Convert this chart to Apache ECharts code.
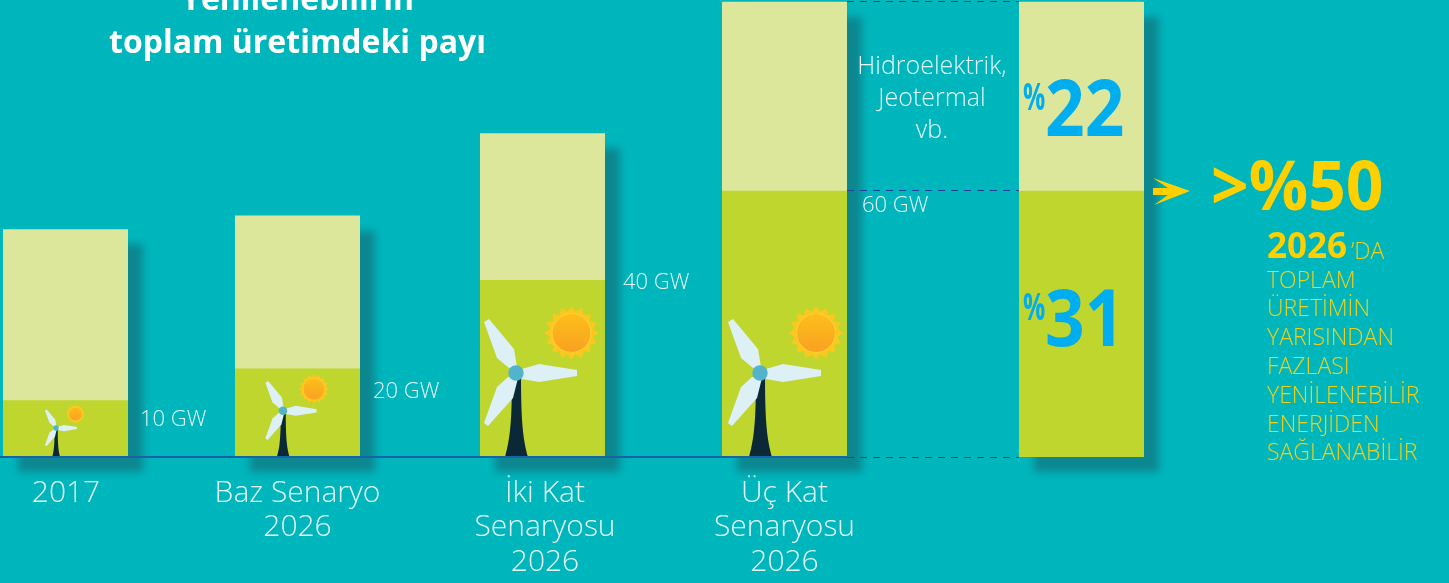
<!DOCTYPE html>
<html>
<head>
<meta charset="utf-8">
<style>
  html, body { margin: 0; padding: 0; background: #00b6bd; }
  #main { width: 1449px; height: 583px; }
</style>
<script src="https://cdn.jsdelivr.net/npm/echarts@6/dist/echarts.min.js"></script>
</head>
<body>
<div id="main"></div>
<script>
// share of total generation, %
const categories = ['2017', 'Baz Senaryo\n2026', 'İki Kat\nSenaryosu\n2026', 'Üç Kat\nSenaryosu\n2026'];
const windSolarShare = [6.6, 10.3, 20.6, 31, 31];
const hydroOtherShare = [19.9, 17.8, 17.1, 22, 22];
const capacityLabels = ['10 GW', '20 GW', '40 GW', '60 GW'];
const yellowLines = ['TOPLAM', 'ÜRETİMİN', 'YARISINDAN', 'FAZLASI', 'YENİLENEBİLİR', 'ENERJİDEN', 'SAĞLANABİLİR'];

// layout only: x axis runs in page pixels because the slots are unevenly spaced
const slotCenters = [65.5, 297.5, 542.5, 784.5, 1081.5];
const labelCenters = [66, 297.5, 545, 784.5];
const FONT = '"Open Sans"';
const BAR_W = 125;
const totals = windSolarShare.map((v, i) => v + hydroOtherShare[i]);

const chart = echarts.init(document.getElementById('main'));

// label offsets from the top-right corner of the green part
const gwOffset = [[12, 19], [13, 23], [18, 3], [15, 15]];
// [dx of hub, hub scale, dx of sun, sun radius, sun dy from ground]
const iconSpec = [
  [-9.5, 0.345, 10, 9.5, 43],
  [-14.5, 0.55, 16.5, 15, 68],
  [-26.5, 1, 29, 27, 124],
  [-24.5, 1, 31.5, 27, 124]
];

const blade1 = [[6, -4], [23, -9], [61, -3], [61, 3], [23, 9], [6, 6]];
const blade2 = [[-32, -51], [-27, -54], [-2, -24], [1, -6], [-7, -5], [-19, -15]];
const blade3 = [[-32, 50], [-28, 53], [-3, 25], [2, 5], [-8, 4], [-19, 14]];

function place(pts, hx, hy, s) {
  return pts.map(p => [hx + p[0] * s, hy + p[1] * s]);
}

function sunPoints(cx, cy, r) {
  const pts = [];
  for (let i = 0; i < 32; i++) {
    const a = i * Math.PI / 16 - Math.PI / 2;
    const rr = i % 2 ? r * 0.8 : r;
    pts.push([cx + Math.cos(a) * rr, cy + Math.sin(a) * rr]);
  }
  return pts;
}

function renderIcon(params, api) {
  const i = params.dataIndex;
  const base = api.coord([api.value(0), 0]);
  const spec = iconSpec[i];
  const s = spec[1];
  const hx = base[0] + spec[0];
  const hy = base[1] - 84 * s;
  const gy = base[1];
  const sx = base[0] + spec[2];
  const sy = base[1] - spec[4];
  const r = spec[3];
  const blade = { fill: '#ddf0f6' };
  return {
    type: 'group',
    children: [
      { type: 'polygon', shape: { points: sunPoints(sx, sy, r) }, style: { fill: '#fdc81e' } },
      {
        type: 'circle', shape: { cx: sx, cy: sy, r: r * 0.72 },
        style: {
          fill: new echarts.graphic.LinearGradient(0, 0, 0, 1, [
            { offset: 0, color: '#fdbf1b' }, { offset: 1, color: '#f9a022' }
          ]),
          stroke: '#fdd23a', lineWidth: s > 0.9 ? 1 : 0.5
        }
      },
      {
        type: 'path',
        shape: {
          pathData: 'M' + (hx - 4 * s) + ' ' + hy + ' L' + (hx + 5 * s) + ' ' + hy +
            ' C' + (hx + 5 * s) + ' ' + (hy + 50 * s) + ' ' + (hx + 7 * s) + ' ' + (hy + 66 * s) + ' ' + (hx + 12 * s) + ' ' + gy +
            ' L' + (hx - 11 * s) + ' ' + gy +
            ' C' + (hx - 6 * s) + ' ' + (hy + 66 * s) + ' ' + (hx - 4 * s) + ' ' + (hy + 50 * s) + ' ' + (hx - 4 * s) + ' ' + hy + ' Z'
        },
        style: { fill: '#0b2836' }
      },
      { type: 'polygon', shape: { points: place(blade1, hx, hy, s) }, style: blade },
      { type: 'polygon', shape: { points: place(blade2, hx, hy, s) }, style: blade },
      { type: 'polygon', shape: { points: place(blade3, hx, hy, s) }, style: blade },
      { type: 'circle', shape: { cx: hx, cy: hy, r: 7.7 * s }, style: { fill: '#52b4cc' } }
    ]
  };
}

function renderGwLabel(params, api) {
  const i = params.dataIndex;
  const p = api.coord([api.value(0) + BAR_W / 2, api.value(1)]);
  return {
    type: 'text',
    style: {
      x: p[0] + gwOffset[i][0], y: p[1] + gwOffset[i][1],
      text: capacityLabels[i], fill: '#e4f6f6',
      font: '300 22px ' + FONT, verticalAlign: 'middle'
    }
  };
}

const refLine = (y, x0, x1, style) => [
  { coord: [x0, y], lineStyle: style },
  { coord: [x1, y] }
];
const dashed = { color: '#23409a', type: [7, 6], width: 1.2 };
const kRight = slotCenters[3] + BAR_W / 2;
const kNext = slotCenters[4] - BAR_W / 2;

function label(x, y, text, font, fill, sx) {
  return {
    type: 'text', z: 10, x: x, y: y, scaleX: sx || 1,
    style: { x: 0, y: 0, text: text, verticalAlign: 'middle', font: font, fill: fill }
  };
}

const option = {
  backgroundColor: '#00b6bd',
  animation: false,
  title: {
    text: 'Yenilenebilirin\ntoplam üretimdeki payı',
    left: 292.5, top: -26, textAlign: 'center',
    textStyle: { fontFamily: 'Open Sans', fontWeight: 700, fontSize: 32, lineHeight: 43, color: '#ffffff' }
  },
  grid: { left: 0, right: 0, top: 1.7, bottom: 126 },
  xAxis: {
    type: 'value', min: 0, max: 1449,
    splitLine: { show: false },
    axisLine: { show: false },
    axisTick: { show: false },
    axisLabel: {
      customValues: labelCenters,
      formatter: v => categories[labelCenters.indexOf(v)],
      fontFamily: 'Open Sans', fontWeight: 300, fontSize: 30, lineHeight: 34.5,
      color: '#e4f6f6', margin: 19, verticalAlign: 'top', hideOverlap: false
    }
  },
  yAxis: { type: 'value', min: 0, max: 53, show: false },
  series: [
    {
      // full height rect in the pale colour, it also carries the drop shadow
      name: 'Hidroelektrik, Jeotermal vb.', type: 'bar', barWidth: BAR_W, barGap: '-100%', z: 1,
      data: totals.map((v, i) => [slotCenters[i], v]),
      itemStyle: {
        color: '#dde79c', shadowColor: '#0c8790', shadowBlur: 8,
        shadowOffsetX: 15, shadowOffsetY: 15
      },
      silent: true
    },
    {
      name: 'Rüzgar ve güneş', type: 'bar', barWidth: BAR_W, barGap: '-100%', z: 2,
      data: windSolarShare.map((v, i) => [slotCenters[i], v]),
      itemStyle: { color: '#bed62e' },
      markLine: {
        silent: true, symbol: 'none', label: { show: false }, animation: false, z: 5,
        data: [
          refLine(0, 0, kRight, { color: '#1a62a8', type: 'solid', width: 2 }),
          refLine(0, kRight, kNext, dashed),
          refLine(totals[3], kRight, kNext, dashed),
          refLine(windSolarShare[3], kRight, kNext, dashed)
        ]
      }
    },
    {
      name: 'icons', type: 'custom', z: 3, renderItem: renderIcon, clip: false,
      data: slotCenters.slice(0, 4).map(x => [x, 0])
    },
    {
      name: 'gw', type: 'custom', z: 4, renderItem: renderGwLabel, clip: false,
      data: capacityLabels.map((_, i) => [slotCenters[i], windSolarShare[i]])
    }
  ],
  graphic: [
    { type: 'text', z: 10, style: { x: 932, y: 99, text: 'Hidroelektrik,\nJeotermal\nvb.', align: 'center', verticalAlign: 'middle', font: '300 25px ' + FONT, lineHeight: 32, fill: '#e4f6f6' } },
    label(1023, 99, '%', '700 38px ' + FONT, '#00aeef', 0.65),
    label(1045, 114, String(hydroOtherShare[3]), '700 78px ' + FONT, '#00aeef', 0.89),
    label(1023, 309, '%', '700 38px ' + FONT, '#00aeef', 0.65),
    label(1045, 324, String(windSolarShare[3]), '700 78px ' + FONT, '#00aeef', 0.89),
    { type: 'polygon', z: 10, shape: { points: [[1153, 178], [1190, 191], [1154, 205], [1168, 195], [1153, 195], [1153, 188], [1168, 188]] }, style: { fill: '#ffd000' } },
    label(1211, 191, '>%50', '700 68px ' + FONT, '#ffd000', 0.97),
    label(1267, 248, '2026', '700 35px ' + FONT, '#ffd000'),
    label(1351, 252, '’DA', '300 23px ' + FONT, '#f0d01a')
  ].concat(yellowLines.map((t, i) =>
    label(1267, 281 + i * 28.8, t, '300 23px ' + FONT, '#f0d01a')
  ))
};

chart.setOption(option);
</script>
</body>
</html>
